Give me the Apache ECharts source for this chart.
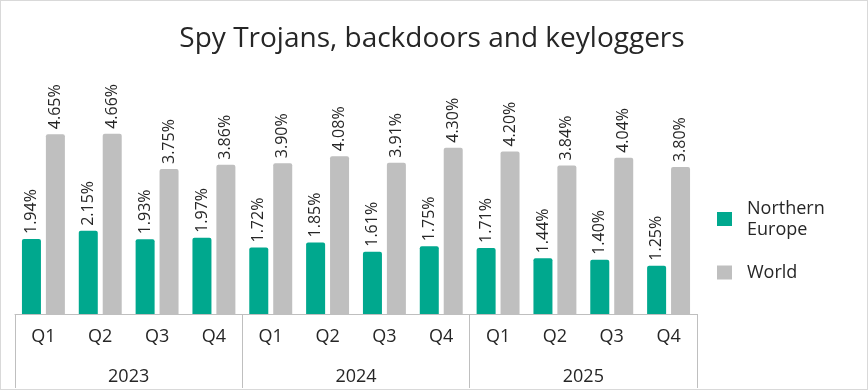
<!DOCTYPE html>
<html><head><meta charset="utf-8">
<script src="https://cdn.jsdelivr.net/npm/echarts@6/dist/echarts.min.js"></script>
<style>
html,body{margin:0;padding:0;background:#fff;}
#c{width:866px;height:388px;border:1px solid #d9d9d9;}
</style></head>
<body><div id="c"></div>
<script>
const quarters = ['Q1','Q2','Q3','Q4','Q1','Q2','Q3','Q4','Q1','Q2','Q3','Q4'];
const years = ['2023','2024','2025'];
const northernEurope = [1.94,2.15,1.93,1.97,1.72,1.85,1.61,1.75,1.71,1.44,1.40,1.25];
const world = [4.65,4.66,3.75,3.86,3.90,4.08,3.91,4.30,4.20,3.84,4.04,3.80];
const FONT = 'Open Sans';
const chart = echarts.init(document.getElementById('c'));
const lbl = {
  show:true, position:'top', rotate:90, align:'left', verticalAlign:'middle', distance:5,
  fontFamily:FONT, fontSize:16, color:'#262626',
  formatter: p => p.value.toFixed(2) + '%'
};
chart.setOption({
  animation:false,
  title:{text:'Spy Trojans, backdoors and keyloggers', left:426, textAlign:'center', top:19,
    textStyle:{fontFamily:FONT, fontSize:28, fontWeight:'normal', color:'#262626'}},
  legend:{orient:'vertical', left:711, top:192, itemWidth:15, itemHeight:14, itemGap:22,
    icon:'rect',
    textStyle:{fontFamily:FONT, fontSize:18, color:'#262626', lineHeight:21, padding:[0,0,0,10]},
    formatter: n => n === 'Northern Europe' ? 'Northern\nEurope' : n,
    data:['Northern Europe','World']},
  grid:{left:14, right:170, top:81, bottom:75},
  xAxis:[
    {type:'category', data:quarters, position:'bottom',
     axisLine:{lineStyle:{color:'#bfbfbf'}},
     axisTick:{alignWithLabel:true, length:8, lineStyle:{color:'#bfbfbf'}},
     axisLabel:{fontFamily:FONT, fontSize:18, color:'#262626', margin:14}},
    {type:'category', data:years, position:'bottom',
     axisLine:{show:false},
     axisTick:{show:true, length:74, lineStyle:{color:'#bfbfbf'}},
     axisLabel:{fontFamily:FONT, fontSize:18, color:'#262626', margin:54}}
  ],
  yAxis:{type:'value', min:0, max:6, show:false, splitLine:{show:false}},
  series:[
    {name:'Northern Europe', type:'bar', data:northernEurope, barWidth:19, barGap:'26%',
     itemStyle:{color:'#00a88e', borderRadius:[2,2,0,0]}, label:lbl},
    {name:'World', type:'bar', data:world, barWidth:19,
     itemStyle:{color:'#bfbfbf', borderRadius:[2,2,0,0]}, label:lbl}
  ]
});
</script></body></html>
